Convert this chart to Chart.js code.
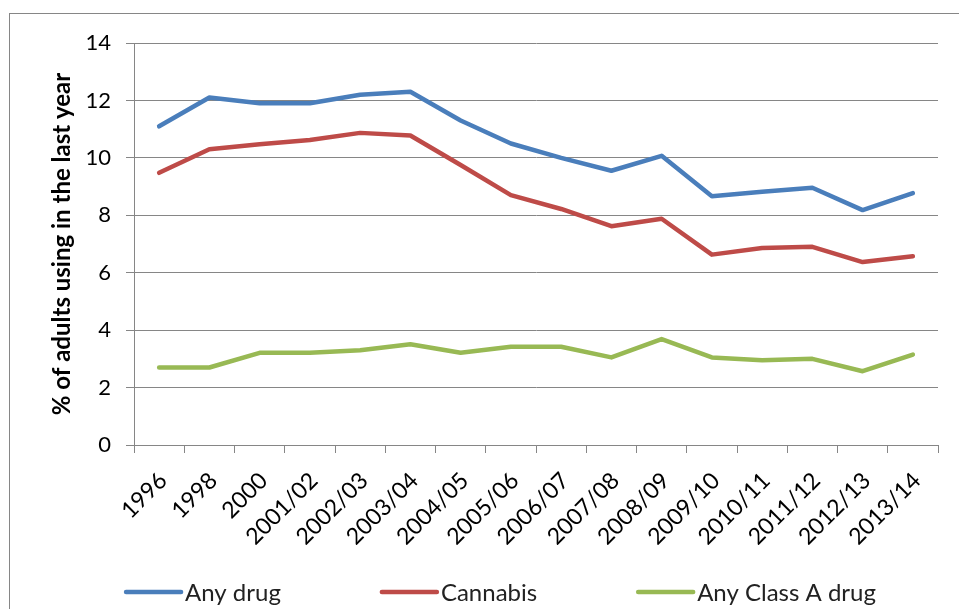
<!DOCTYPE html>
<html>
<head>
<meta charset="utf-8">
<script src="https://cdn.jsdelivr.net/npm/chart.js@4.4.1/dist/chart.umd.min.js"></script>
<style>
  html, body { margin: 0; padding: 0; background: #fff; }
  #wrap { width: 959px; height: 609px; position: relative; }
</style>
</head>
<body>
<div id="wrap"><canvas id="c" width="959" height="609"></canvas></div>
<script>
const categories = ["1996","1998","2000","2001/02","2002/03","2003/04","2004/05","2005/06","2006/07","2007/08","2008/09","2009/10","2010/11","2011/12","2012/13","2013/14"];
const anyDrug   = [11.1, 12.1, 11.9, 11.9, 12.2, 12.3, 11.3, 10.5, 10.0, 9.55, 10.07, 8.66, 8.82, 8.96, 8.18, 8.77];
const cannabis  = [9.48, 10.3, 10.47, 10.62, 10.87, 10.78, 9.75, 8.7, 8.22, 7.62, 7.88, 6.63, 6.86, 6.9, 6.37, 6.57];
const classA    = [2.7, 2.7, 3.21, 3.21, 3.3, 3.51, 3.21, 3.42, 3.42, 3.05, 3.69, 3.05, 2.95, 3.0, 2.57, 3.15];
const seriesNames = ["Any drug", "Cannabis", "Any Class A drug"];
const yTicksMin = 0, yTicksMax = 14, yTickStep = 2;
const yTitle = "% of adults using in the last year";

const FONT = "Lato, 'Open Sans', sans-serif";
const GRID = "#868686";

const frame = {
  id: 'frame',
  beforeDraw(chart) {
    const ctx = chart.ctx;
    ctx.save();
    ctx.fillStyle = '#fff';
    ctx.fillRect(0, 0, chart.width, chart.height);
    ctx.strokeStyle = GRID;
    ctx.lineWidth = 1;
    ctx.strokeRect(9.5, 13.5, 3000, 3000);
    ctx.restore();
  }
};

const customLegend = {
  id: 'customLegend',
  afterDraw(chart) {
    const ctx = chart.ctx;
    const ds = chart.data.datasets;
    const lineLen = 55, gapText = 4, gapItem = 101;
    ctx.save();
    ctx.font = "24px " + FONT;
    let total = 0;
    const widths = ds.map(d => ctx.measureText(d.label).width);
    widths.forEach((w, i) => { total += lineLen + gapText + w + (i < ds.length - 1 ? gapItem : 0); });
    let x = 501 - total / 2;
    const y = 592;
    ds.forEach((d, i) => {
      ctx.strokeStyle = d.borderColor;
      ctx.lineWidth = 4.5;
      ctx.lineCap = 'round';
      ctx.beginPath();
      ctx.moveTo(x, y);
      ctx.lineTo(x + lineLen, y);
      ctx.stroke();
      ctx.fillStyle = '#222';
      ctx.textBaseline = 'middle';
      ctx.textAlign = 'left';
      ctx.fillText(d.label, x + lineLen + gapText, y + 1);
      x += lineLen + gapText + widths[i] + gapItem;
    });
    ctx.restore();
  }
};

const mk = (label, data, color) => ({
  label, data,
  borderColor: color,
  backgroundColor: color,
  borderWidth: 4.5,
  pointRadius: 0,
  pointHoverRadius: 0,
  tension: 0,
  fill: false,
  borderCapStyle: 'round',
  borderJoinStyle: 'round'
});

new Chart(document.getElementById('c'), {
  type: 'line',
  data: {
    labels: categories,
    datasets: [
      mk(seriesNames[0], anyDrug, '#4A7EBB'),
      mk(seriesNames[1], cannabis, '#BE4B48'),
      mk(seriesNames[2], classA, '#98B954')
    ]
  },
  options: {
    responsive: false,
    animation: false,
    devicePixelRatio: 1,
    layout: { padding: { left: 48, top: 43, right: 21, bottom: 64 } },
    plugins: { legend: { display: false }, tooltip: { enabled: false } },
    scales: {
      x: {
        type: 'category',
        offset: true,
        grid: { display: true, offset: true, drawOnChartArea: false, drawTicks: true, tickLength: 8, color: GRID, lineWidth: 1 },
        border: { display: true, color: GRID, width: 1 },
        ticks: { autoSkip: false, minRotation: 45, maxRotation: 45, color: '#000', padding: 14, labelOffset: 4, font: { family: FONT, size: 23 } },
        afterFit(scale) { scale.height = 100; }
      },
      y: {
        min: yTicksMin, max: yTicksMax,
        ticks: { stepSize: yTickStep, color: '#000', padding: 15, font: { family: FONT, size: 22 } },
        grid: { color: GRID, lineWidth: 1, tickLength: 8, drawTicks: true },
        border: { display: true, color: GRID, width: 1 },
        title: { display: true, text: yTitle, color: '#000', padding: 0, font: { family: FONT, size: 24, weight: 'bold' } },
        afterFit(scale) { scale.width = 86; }
      }
    }
  },
  plugins: [frame, customLegend]
});
</script>
</body>
</html>
